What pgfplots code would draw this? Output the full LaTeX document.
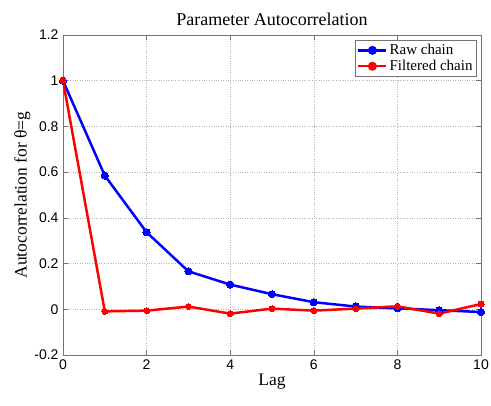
\documentclass[border=0pt]{standalone}
\usepackage{pgfplots}
\pgfplotsset{compat=1.18}
\usepackage{fontspec}
\setmainfont{Liberation Serif}
\newfontfamily\ticksfont{Liberation Sans}

\pgfplotstableread{
lag raw filtered
0  1.000  1.000
1  0.585 -0.009
2  0.337 -0.006
3  0.166  0.012
4  0.108 -0.019
5  0.066  0.003
6  0.031 -0.006
7  0.012  0.003
8  0.004  0.013
9 -0.004 -0.019
10 -0.012 0.023
}\acf

\begin{document}
\begin{tikzpicture}
\begin{axis}[
  name=ax,
  scale only axis,
  width=418bp, height=320bp,
  xmin=0, xmax=10, ymin=-0.2, ymax=1.2,
  xtick={0,2,...,10},
  ytick={-0.2,0,0.2,0.4,0.6,0.8,1,1.2},
  yticklabels={-0.2,0,0.2,0.4,0.6,0.8,1,1.2},
  /pgf/number format/assume math mode=true,
  tick label style={font=\ticksfont\fontsize{14bp}{16bp}\selectfont},
  xticklabel style={yshift=-1bp},
  yticklabel style={xshift=-1bp},
  tick align=inside,
  major tick length=5bp,
  xtick pos=both, ytick pos=both,
  tick style={black!55, line width=0.5pt},
  grid=major,
  major grid style={dotted, black!30, line width=0.5pt},
  axis line style={black!55, line width=0.6pt},
  title={Parameter Autocorrelation},
  title style={font=\fontsize{18bp}{20bp}\selectfont, yshift=0bp},
  xlabel={Lag},
  ylabel={Autocorrelation for θ=g},
  label style={font=\fontsize{17.5bp}{20bp}\selectfont},
  xlabel style={yshift=2bp},
  ylabel style={yshift=-3bp},
  legend style={at={(0.990,0.984)}, anchor=north east,
    font=\fontsize{15bp}{17bp}\selectfont,
    draw=black!55, line width=0.6pt, inner xsep=2bp, inner ysep=2bp,
    row sep=0bp},
  legend cell align=left,
  legend image code/.code={
    \draw[#1, mark=none] (0bp,0bp) -- (28bp,0bp);
    \fill[#1, mark=none] (14bp,0bp) circle[radius=3.2bp];
  },
]
\addplot[blue, line width=2.5pt, mark=*, mark size=3.6bp, mark options={line width=0pt}] table[x=lag, y=raw] {\acf};
\addlegendentry{Raw chain}
\addplot[red, line width=2.5pt, mark=*, mark size=3.0bp, mark options={line width=0pt}] table[x=lag, y=filtered] {\acf};
\addlegendentry{Filtered chain}
\end{axis}
\pgfresetboundingbox
\path[use as bounding box] ([xshift=-63bp,yshift=-51bp]ax.south west) rectangle ([xshift=10bp,yshift=35bp]ax.north east);
\end{tikzpicture}
\end{document}
